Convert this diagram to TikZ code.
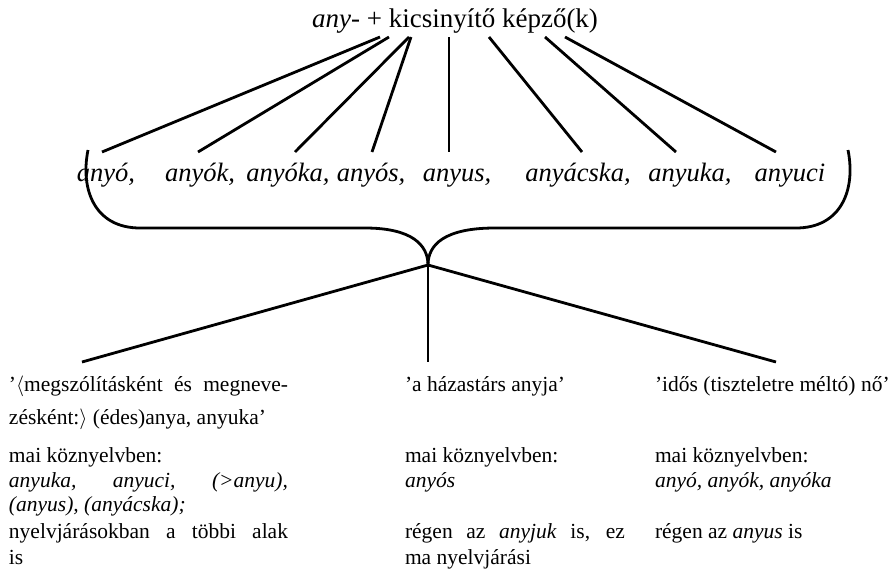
\documentclass[tikz,border=0pt]{standalone}
\usepackage{fontspec}
\setmainfont{Liberation Serif}
\begin{document}
\begin{tikzpicture}[x=1pt,y=-1pt,
  ln/.style={line width=2.8pt},
  br/.style={line width=2.8pt},
  topfont/.style={font=\fontsize{27}{31}\selectfont},
  itemfont/.style={font=\fontsize{26.5}{30}\selectfont\itshape},
  txt/.style={font=\fontsize{21.5}{24}\selectfont,anchor=base west,inner sep=0pt,outer sep=0pt}]
\useasboundingbox (0,0) rectangle (888,573);
% top
\node[topfont,anchor=base,inner sep=0pt] (top) at (455,27) {\textit{any}- + kicsinyítő képző(k)};
\coordinate (t1) at (380,37);
\coordinate (t2) at (389,37);
\coordinate (t3) at (409,37);
\coordinate (t4) at (411,37);
\coordinate (t5) at (449,37);
\coordinate (t6) at (489,37);
\coordinate (t7) at (545,37);
\coordinate (t8) at (565,37);
% items
\foreach \n/\x/\w in {1/106/{anyó,},2/200/{anyók,},3/288/{anyóka,},4/371/{anyós,},5/457/{anyus,},6/578/{anyácska,},7/690/{anyuka,},8/790/{anyuci}}{
  \node[itemfont,anchor=base,inner sep=0pt] (i\n) at (\x,181) {\w};
}
\coordinate (b1) at (102,152);
\coordinate (b2) at (198,152);
\coordinate (b3) at (295,152);
\coordinate (b4) at (372,152);
\coordinate (b5) at (449,152);
\coordinate (b6) at (582,152);
\coordinate (b7) at (676,152);
\coordinate (b8) at (776,152);
\foreach \k in {1,...,8}{\draw[ln] (t\k) -- (b\k);}
% bracket
\coordinate (J) at (428,265);
\draw[br] (88,150) .. controls (80,190) and (95,228) .. (140,228) -- (365,228)
  .. controls (412,228) and (428,245) .. (J);
\draw[br] (848,150) .. controls (856,190) and (841,228) .. (796,228) -- (495,228)
  .. controls (444,228) and (428,245) .. (J);
% lower branches
\coordinate (L) at (82,362);
\coordinate (M) at (428,362);
\coordinate (R) at (776,362);
\draw[ln] (J) -- (L);
\draw[ln] (J) -- (M);
\draw[ln] (J) -- (R);
% left column
\node[txt] (l1) at (9,391) {\makebox[279pt][s]{’$\langle$megszólításként és megneve-}};
\node[txt] (l2) at (9,424) {zésként:$\rangle$ (édes)anya, anyuka’};
\node[txt] (l3) at (9,462) {mai köznyelvben:};
\node[txt] (l4) at (9,487) {\makebox[279pt][s]{\itshape anyuka, anyuci, (>anyu),}};
\node[txt] (l5) at (9,511) {\itshape (anyus), (anyácska);};
\node[txt] (l6) at (9,538) {\makebox[279pt][s]{nyelvjárásokban a többi alak}};
\node[txt] (l7) at (9,564) {is};
% middle column
\node[txt] (m1) at (405,391) {’a házastárs anyja’};
\node[txt] (m2) at (405,462) {mai köznyelvben:};
\node[txt] (m3) at (405,487) {\itshape anyós};
\node[txt] (m4) at (405,538) {\makebox[220pt][s]{régen az \textit{anyjuk} is, ez}};
\node[txt] (m5) at (405,564) {ma nyelvjárási};
% right column
\node[txt] (r1) at (655,391) {’idős (tiszteletre méltó) nő’};
\node[txt] (r2) at (655,462) {mai köznyelvben:};
\node[txt] (r3) at (655,487) {\itshape anyó, anyók, anyóka};
\node[txt] (r4) at (655,538) {régen az \textit{anyus} is};
\end{tikzpicture}
\end{document}
